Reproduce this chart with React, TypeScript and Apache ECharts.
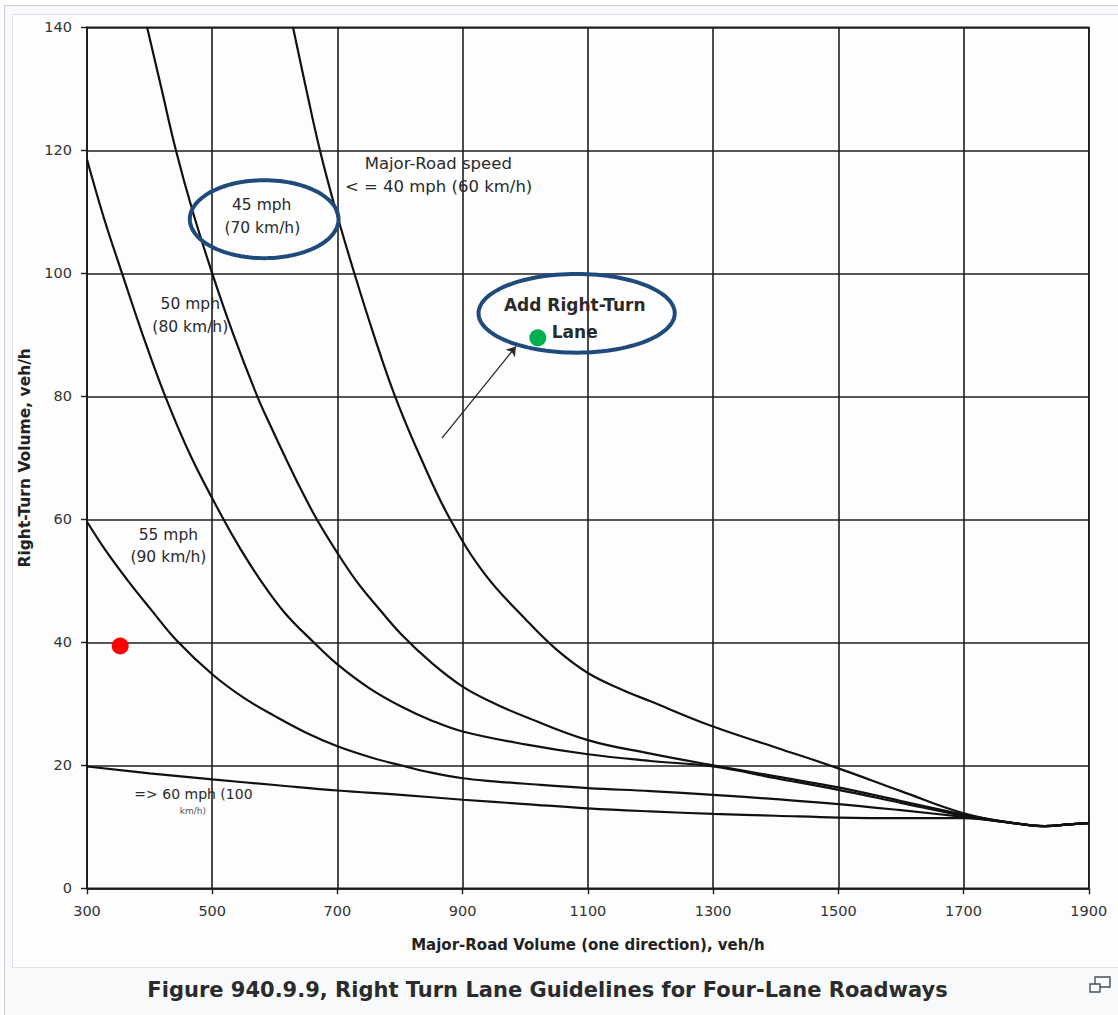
import React, { useEffect, useRef } from "react";
import * as echarts from "echarts";

// ---------- data ----------
const xMin = 300;
const xMax = 1900;
const xStep = 200;
const yMin = 0;
const yMax = 140;
const yStep = 20;

// <= 40 mph (60 km/h)
const volA = [629, 650, 672, 698, 727, 758, 792, 833, 880, 936, 1000, 1050, 1100, 1150, 1200, 1300, 1400, 1500, 1600, 1700, 1780, 1830, 1870, 1900];
const rtA = [140, 130, 120, 110, 100, 90, 80, 70, 60, 51, 43.8, 38.8, 35.0, 32.5, 30.4, 26.3, 22.9, 19.5, 15.8, 12.2, 10.6, 10.1, 10.4, 10.6];
// 45 mph (70 km/h)
const volB = [396, 419, 442, 469, 500, 534, 572, 594, 617, 641, 667, 697, 730, 766, 801, 850, 900, 950, 1000, 1100, 1200, 1300, 1400, 1500, 1600, 1700, 1780, 1830, 1870, 1900];
const rtB = [140, 130, 120, 110, 100, 90, 80, 75, 70, 65, 60, 55, 50, 45.5, 41.4, 36.7, 32.8, 30.1, 27.9, 24.1, 21.9, 20.0, 18.2, 16.4, 14.2, 12.0, 10.6, 10.1, 10.4, 10.6];
// 50 mph (80 km/h)
const volC = [300, 327, 356, 389, 425, 467, 518, 545, 575, 615, 662, 700, 750, 801, 850, 900, 1000, 1100, 1200, 1300, 1400, 1500, 1600, 1700, 1780, 1830, 1870, 1900];
const rtC = [118.5, 109, 100, 90, 80, 70, 60, 55.2, 50.4, 44.9, 40, 36.4, 32.6, 29.6, 27.3, 25.5, 23.4, 21.8, 20.7, 19.8, 17.9, 16.0, 13.9, 11.8, 10.6, 10.1, 10.4, 10.6];
// 55 mph (90 km/h)
const volD = [300, 330, 364, 400, 444, 500, 550, 600, 650, 700, 750, 801, 850, 900, 950, 1000, 1100, 1200, 1300, 1400, 1500, 1600, 1700, 1780, 1830, 1870, 1900];
const rtD = [59.6, 54.9, 50.2, 45.6, 40.2, 34.8, 31.0, 28.0, 25.3, 23.1, 21.4, 20.0, 18.8, 17.9, 17.4, 17.0, 16.3, 15.8, 15.2, 14.5, 13.7, 12.7, 11.6, 10.6, 10.1, 10.4, 10.6];
// >= 60 mph (100 km/h)
const volE = [300, 400, 500, 600, 700, 801, 900, 1000, 1100, 1200, 1300, 1400, 1500, 1600, 1700, 1780, 1830, 1870, 1900];
const rtE = [19.8, 18.7, 17.7, 16.8, 15.9, 15.2, 14.4, 13.7, 13.0, 12.5, 12.1, 11.8, 11.5, 11.4, 11.4, 10.6, 10.1, 10.4, 10.6];

// marked points
const redPoint = [353, 39.4];
const greenPoint = [1020, 89.5];

// arrow (from, to)
const arrowFrom = [867, 73.2];
const arrowTo = [985, 88.1];

// ellipses: center x, center y, radius x, radius y (data units)
const ellipseCx = [583, 1082];
const ellipseCy = [108.8, 93.5];
const ellipseRx = [118.8, 156.7];
const ellipseRy = [6.34, 6.4];

// annotation texts and anchors (data units)
const annoText = [
  "Major-Road speed",
  "< = 40 mph (60 km/h)",
  "45 mph",
  "(70 km/h)",
  "50 mph",
  "(80 km/h)",
  "55 mph",
  "(90 km/h)",
  "=> 60 mph (100",
  "km/h)",
  "Add Right-Turn",
  "Lane",
];
const annoX = [861, 861.5, 579, 580, 465, 465, 430, 430, 470, 469, 1079, 1079];
const annoY = [117.9, 114.1, 111.1, 107.4, 95.0, 91.3, 57.4, 53.9, 15.4, 12.6, 94.9, 90.5];
const annoKind = ["w", "w", "n", "n", "n", "n", "n", "n", "s", "t", "b", "b"];

const xTitle = "Major-Road Volume (one direction), veh/h";
const yTitle = "Right-Turn Volume, veh/h";
const caption = "Figure 940.9.9, Right Turn Lane Guidelines for Four-Lane Roadways";

const FONT = '"DejaVu Sans", sans-serif';

function pairs(xs: number[], ys: number[]) {
  return xs.map((x, i) => [x, ys[i]]);
}

function curve(name: string, xs: number[], ys: number[]) {
  return {
    name,
    type: "line",
    data: pairs(xs, ys),
    showSymbol: false,
    symbol: "none",
    smooth: 0.4,
    silent: true,
    z: 3,
    lineStyle: { color: "#111", width: 2.2 },
  };
}

export default function App() {
  const ref = useRef<HTMLDivElement>(null);

  useEffect(() => {
    if (!ref.current) return;
    const chart = echarts.init(ref.current, null, { renderer: "svg" });

    const kindStyle: Record<string, any> = {
      w: { fontSize: 16.5, fontWeight: "normal", fill: "#2a2a2a" },
      n: { fontSize: 15.5, fontWeight: "normal", fill: "#2a2a2a" },
      s: { fontSize: 14, fontWeight: "normal", fill: "#2a2a2a" },
      t: { fontSize: 9, fontWeight: "normal", fill: "#555" },
      b: { fontSize: 17, fontWeight: "bold", fill: "#2a2a2a" },
    };

    const option: any = {
      animation: false,
      grid: {
        left: 87,
        top: 27.3,
        width: 1001.8,
        height: 861,
        show: true,
        borderColor: "#1e1e1e",
        borderWidth: 1.6,
        backgroundColor: "transparent",
      },
      xAxis: {
        type: "value",
        min: xMin,
        max: xMax,
        interval: xStep,
        name: xTitle,
        nameLocation: "middle",
        nameGap: 49,
        nameTextStyle: { fontFamily: FONT, fontSize: 15, fontWeight: "bold", color: "#222" },
        axisLine: { show: true, lineStyle: { color: "#1e1e1e", width: 1.6 } },
        axisTick: { show: true, length: 6, lineStyle: { color: "#1e1e1e", width: 1.4 } },
        axisLabel: {
          fontFamily: FONT,
          fontSize: 14.5,
          color: "#333",
          margin: 15,
          formatter: (v: number) => String(v),
        },
        splitLine: { show: true, lineStyle: { color: "#1e1e1e", width: 1.6 } },
      },
      yAxis: {
        type: "value",
        min: yMin,
        max: yMax,
        interval: yStep,
        name: yTitle,
        nameLocation: "middle",
        nameRotate: 90,
        nameGap: 50,
        nameTextStyle: { fontFamily: FONT, fontSize: 15.5, fontWeight: "bold", color: "#222" },
        axisLine: { show: true, lineStyle: { color: "#1e1e1e", width: 1.6 } },
        axisTick: { show: true, length: 6, lineStyle: { color: "#1e1e1e", width: 1.4 } },
        axisLabel: {
          fontFamily: FONT,
          fontSize: 14.5,
          color: "#333",
          margin: 15,
          formatter: (v: number) => String(v),
        },
        splitLine: { show: true, lineStyle: { color: "#1e1e1e", width: 1.6 } },
      },
      series: [
        curve("<= 40 mph (60 km/h)", volA, rtA),
        curve("45 mph (70 km/h)", volB, rtB),
        curve("50 mph (80 km/h)", volC, rtC),
        curve("55 mph (90 km/h)", volD, rtD),
        curve("=> 60 mph (100 km/h)", volE, rtE),
        {
          name: "annotations",
          type: "custom",
          silent: true,
          z: 4,
          data: annoX.map((x, i) => [x, annoY[i]]),
          encode: { x: 0, y: 1 },
          renderItem: (params: any, api: any) => {
            const i = params.dataIndex;
            const p = api.coord([api.value(0), api.value(1)]);
            const st = kindStyle[annoKind[i]];
            return {
              type: "text",
              x: p[0],
              y: p[1],
              style: {
                text: annoText[i],
                fontFamily: FONT,
                fontSize: st.fontSize,
                fontWeight: st.fontWeight,
                fill: st.fill,
                align: "center",
                verticalAlign: "middle",
              },
            };
          },
        },
        {
          name: "ellipses",
          type: "custom",
          silent: true,
          z: 5,
          data: ellipseCx.map((x, i) => [x, ellipseCy[i], ellipseRx[i], ellipseRy[i]]),
          encode: { x: 0, y: 1 },
          renderItem: (params: any, api: any) => {
            const c = api.coord([api.value(0), api.value(1)]);
            const s = api.size([api.value(2), api.value(3)]);
            const pts: number[][] = [];
            const n = 120;
            for (let k = 0; k < n; k++) {
              const t = (k / n) * Math.PI * 2;
              pts.push([c[0] + s[0] * Math.cos(t), c[1] + s[1] * Math.sin(t)]);
            }
            return {
              type: "polygon",
              shape: { points: pts },
              style: { fill: "none", stroke: "#1f4a7c", lineWidth: 4 },
            };
          },
        },
        {
          name: "arrow",
          type: "lines",
          coordinateSystem: "cartesian2d",
          silent: true,
          z: 5,
          symbol: ["none", "arrow"],
          symbolSize: 9,
          lineStyle: { color: "#2a2a2a", width: 1.3, opacity: 1 },
          data: [{ coords: [arrowFrom, arrowTo] }],
        },
        {
          name: "points",
          type: "scatter",
          silent: true,
          z: 6,
          symbolSize: 17,
          data: [
            { value: redPoint, itemStyle: { color: "#ff0000", opacity: 1 } },
            { value: greenPoint, itemStyle: { color: "#00b050", opacity: 1 } },
          ],
        },
      ],
      graphic: [
        {
          type: "text",
          x: 547.5,
          y: 990,
          style: {
            text: caption,
            fontFamily: FONT,
            fontSize: 21,
            fontWeight: "bold",
            fill: "#2b2b2b",
            align: "center",
            verticalAlign: "middle",
          },
        },
        {
          type: "rect",
          shape: { x: 1095, y: 977, width: 15, height: 10 },
          style: { fill: "#f8f9fa", stroke: "#4a4f55", lineWidth: 1.4 },
        },
        {
          type: "rect",
          shape: { x: 1090, y: 984, width: 10, height: 8 },
          style: { fill: "#f8f9fa", stroke: "#4a4f55", lineWidth: 1.4 },
        },
      ],
    };

    chart.setOption(option);
    return () => {
      chart.dispose();
    };
  }, []);

  return (
    <div
      style={{
        position: "absolute",
        left: 0,
        top: 0,
        width: 1118,
        height: 1015,
        overflow: "hidden",
        background: "#ffffff",
      }}
    >
      <div
        style={{
          position: "absolute",
          left: 4,
          top: 5,
          width: 1200,
          height: 1100,
          border: "1px solid #c8ccd1",
          background: "#f8f9fa",
        }}
      />
      <div
        style={{
          position: "absolute",
          left: 12,
          top: 14,
          width: 1200,
          height: 952,
          border: "1px solid #dfe2e6",
          background: "#fcfdfc",
        }}
      />
      <div ref={ref} style={{ position: "absolute", left: 0, top: 0, width: 1118, height: 1015 }} />
    </div>
  );
}
